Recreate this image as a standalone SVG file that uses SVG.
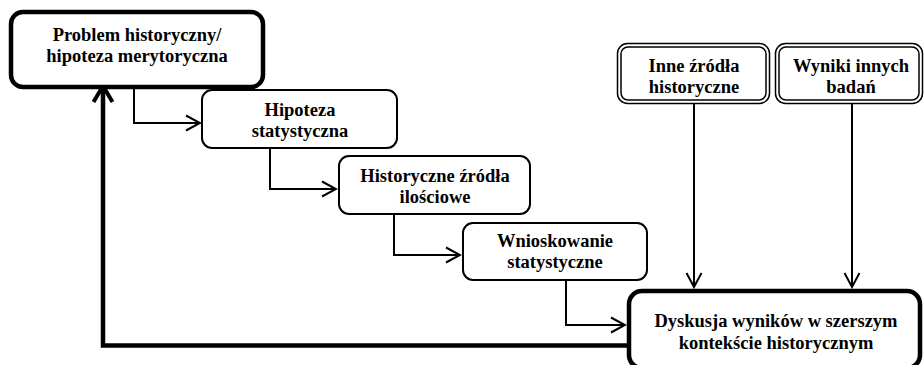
<svg xmlns="http://www.w3.org/2000/svg" width="924" height="365" viewBox="0 0 924 365">
<style>
text{font-family:'Liberation Serif',Tinos,'DejaVu Serif',serif;font-weight:700;font-size:18.5px;fill:#000;text-anchor:middle}
.thick{fill:#fff;stroke:#000;stroke-width:4.5}
.thin{fill:#fff;stroke:#000;stroke-width:2}
.dbl{fill:none;stroke:#000;stroke-width:1.5}
.c{fill:none;stroke:#000;stroke-width:2}
.ct{fill:none;stroke:#000;stroke-width:4.5}
</style>
<defs>
<marker id="a" markerUnits="userSpaceOnUse" viewBox="-16 -9 18 18" refX="0" refY="0" markerWidth="18" markerHeight="18" orient="auto">
<path d="M-14,-7.5 L0,0 L-14,7.5" fill="none" stroke="#000" stroke-width="2"/>
</marker>
<marker id="at" markerUnits="userSpaceOnUse" viewBox="-20 -12 24 24" refX="0" refY="0" markerWidth="24" markerHeight="24" orient="auto">
<path d="M-16,-9.5 L0,0 L-16,9.5" fill="none" stroke="#000" stroke-width="4"/>
</marker>
</defs>
<g id="connectors">
<path class="c" d="M134,88 V123 H200" marker-end="url(#a)"/>
<path class="c" d="M270,149 V189 H336" marker-end="url(#a)"/>
<path class="c" d="M394,215 V255 H460" marker-end="url(#a)"/>
<path class="c" d="M566,281 V325 H625" marker-end="url(#a)"/>
<path class="c" d="M694,104 V287" marker-end="url(#a)"/>
<path class="c" d="M852,104 V287" marker-end="url(#a)"/>
<path class="ct" d="M627,345.5 H103 V86" marker-end="url(#at)"/>
</g>
<g id="n1">
<rect class="thick" x="11" y="12" width="252" height="75" rx="12"/>
<text x="137" y="41">Problem historyczny/</text>
<text x="137" y="62">hipoteza merytoryczna</text>
</g>
<g id="n2">
<rect class="thin" x="202" y="90" width="195" height="58" rx="10"/>
<text x="300" y="116">Hipoteza</text>
<text x="300" y="136.5">statystyczna</text>
</g>
<g id="n3">
<rect class="thin" x="339" y="156" width="191" height="58" rx="10"/>
<text x="435" y="182">Historyczne źródła</text>
<text x="435" y="202.5">ilościowe</text>
</g>
<g id="n4">
<rect class="thin" x="463" y="223" width="184" height="57" rx="10"/>
<text x="555" y="247">Wnioskowanie</text>
<text x="555" y="268">statystyczne</text>
</g>
<g id="n5">
<rect class="thick" x="629" y="291" width="291" height="77" rx="13"/>
<text x="776" y="327">Dyskusja wyników w szerszym</text>
<text x="776" y="349">kontekście historycznym</text>
</g>
<g id="n6">
<rect class="dbl" x="617.5" y="43.5" width="152" height="60" rx="10"/>
<rect class="dbl" x="621" y="47" width="145" height="53" rx="7"/>
<text x="694" y="72">Inne źródła</text>
<text x="694" y="93">historyczne</text>
</g>
<g id="n7">
<rect class="dbl" x="775.5" y="43.5" width="147" height="60" rx="10"/>
<rect class="dbl" x="779" y="47" width="140" height="53" rx="7"/>
<text x="851" y="72">Wyniki innych</text>
<text x="851" y="93">badań</text>
</g>
</svg>
